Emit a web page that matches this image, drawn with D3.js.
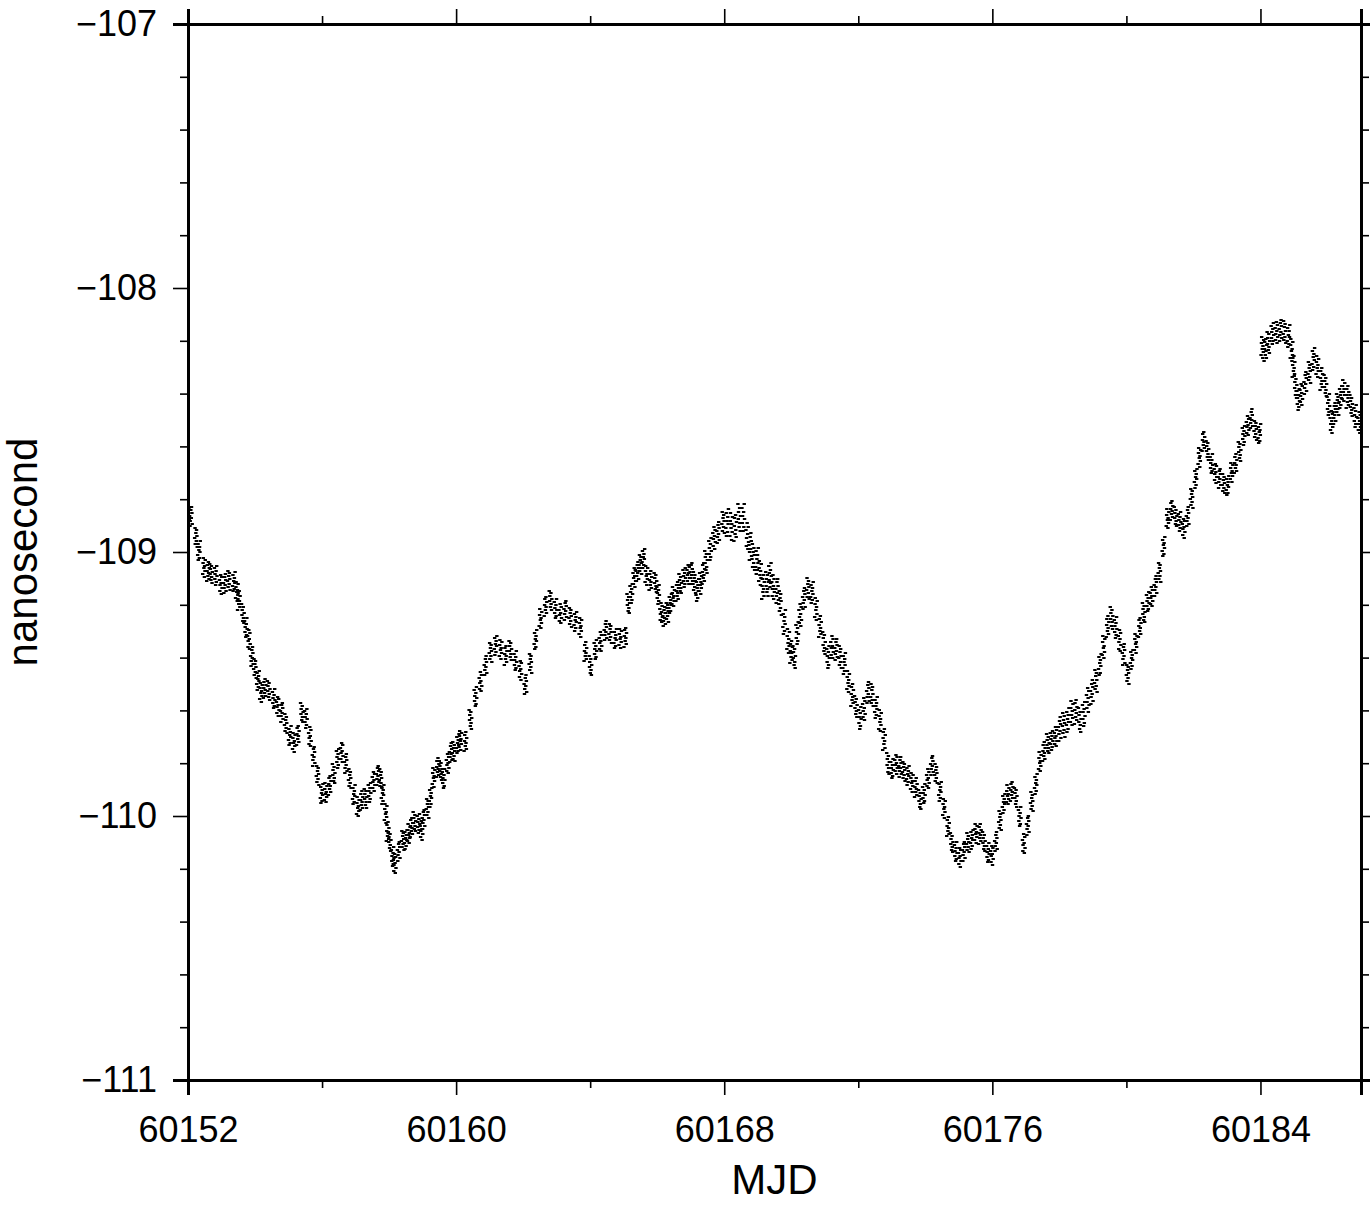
<!DOCTYPE html>
<html><head><meta charset="utf-8">
<script src="https://cdn.jsdelivr.net/npm/d3@7"></script>
<style>body{margin:0;background:#fff} svg text{font-family:"Liberation Sans",Arial,Helvetica,sans-serif;fill:#000}</style>
</head><body><svg id="c" width="1370" height="1213"></svg>
<script>
// ---- data ----
const mjdStart = 60152;
const dayOffset = [0.00,0.09,0.24,0.33,0.48,0.60,0.69,0.83,0.98,1.10,1.22,1.37,1.46,1.52,1.64,1.73,1.82,1.91,2.00,2.09,2.18,2.29,2.41,2.56,2.68,2.80,2.92,3.04,3.16,3.28,3.40,3.52,3.64,3.75,3.87,3.99,4.11,4.23,4.35,4.47,4.59,4.71,4.83,4.95,5.07,5.18,5.30,5.42,5.54,5.66,5.75,5.81,5.90,5.96,6.02,6.11,6.17,6.29,6.41,6.50,6.59,6.67,6.76,6.88,6.97,7.03,7.15,7.24,7.33,7.45,7.54,7.63,7.75,7.84,7.93,8.05,8.13,8.28,8.43,8.58,8.73,8.88,9.03,9.18,9.33,9.48,9.62,9.77,9.92,10.07,10.22,10.37,10.52,10.67,10.82,10.97,11.11,11.26,11.41,11.56,11.71,11.86,12.01,12.16,12.31,12.46,12.60,12.75,12.90,13.05,13.14,13.23,13.32,13.41,13.50,13.59,13.68,13.80,13.95,14.03,14.12,14.21,14.30,14.39,14.48,14.60,14.69,14.81,14.93,15.02,15.11,15.20,15.29,15.38,15.46,15.58,15.70,15.82,15.97,16.09,16.21,16.33,16.45,16.57,16.69,16.78,16.87,16.98,17.07,17.16,17.28,17.37,17.46,17.58,17.67,17.79,17.91,18.00,18.09,18.18,18.27,18.38,18.50,18.62,18.74,18.86,18.98,19.10,19.22,19.34,19.46,19.58,19.70,19.82,19.93,20.05,20.17,20.29,20.41,20.53,20.65,20.77,20.89,21.01,21.13,21.25,21.36,21.48,21.60,21.72,21.84,21.96,22.08,22.20,22.32,22.44,22.56,22.68,22.79,22.91,23.03,23.15,23.27,23.39,23.51,23.63,23.75,23.87,23.99,24.11,24.23,24.34,24.46,24.58,24.70,24.82,24.94,25.06,25.18,25.30,25.42,25.54,25.66,25.77,25.89,26.01,26.13,26.25,26.37,26.49,26.61,26.73,26.85,26.97,27.09,27.21,27.32,27.44,27.56,27.68,27.80,27.92,28.04,28.16,28.28,28.40,28.52,28.64,28.75,28.87,28.99,29.11,29.23,29.35,29.47,29.59,29.71,29.83,29.95,30.07,30.18,30.30,30.42,30.54,30.66,30.78,30.90,31.02,31.14,31.26,31.38,31.50,31.62,31.73,31.85,31.97,32.06,32.15,32.24,32.36,32.48,32.60,32.72,32.84,32.93,32.99,33.05,33.13,33.22,33.34,33.46,33.58,33.70,33.82,33.94,34.03,34.12,34.21,34.30,34.39,34.48,34.60,34.71,34.83,34.95];
const nsValue = [-108.860,-108.867,-108.936,-108.992,-109.057,-109.068,-109.076,-109.087,-109.114,-109.117,-109.106,-109.106,-109.144,-109.182,-109.227,-109.284,-109.333,-109.390,-109.436,-109.485,-109.523,-109.515,-109.523,-109.549,-109.580,-109.606,-109.644,-109.693,-109.720,-109.686,-109.606,-109.629,-109.693,-109.769,-109.845,-109.909,-109.909,-109.883,-109.833,-109.777,-109.758,-109.795,-109.856,-109.920,-109.958,-109.939,-109.932,-109.902,-109.864,-109.845,-109.852,-109.913,-109.989,-110.053,-110.091,-110.155,-110.174,-110.129,-110.091,-110.080,-110.064,-110.042,-110.015,-110.023,-110.053,-110.004,-109.966,-109.928,-109.845,-109.814,-109.826,-109.852,-109.799,-109.761,-109.750,-109.723,-109.712,-109.712,-109.629,-109.549,-109.485,-109.428,-109.379,-109.345,-109.364,-109.390,-109.364,-109.409,-109.447,-109.496,-109.417,-109.333,-109.246,-109.201,-109.182,-109.208,-109.231,-109.220,-109.239,-109.258,-109.284,-109.371,-109.428,-109.371,-109.333,-109.295,-109.307,-109.322,-109.322,-109.322,-109.189,-109.152,-109.095,-109.068,-109.042,-109.023,-109.080,-109.106,-109.114,-109.152,-109.227,-109.246,-109.220,-109.193,-109.170,-109.144,-109.117,-109.095,-109.076,-109.076,-109.117,-109.136,-109.117,-109.080,-109.030,-108.985,-108.947,-108.917,-108.886,-108.890,-108.894,-108.905,-108.871,-108.860,-108.936,-108.981,-109.011,-109.030,-109.080,-109.125,-109.117,-109.087,-109.125,-109.144,-109.193,-109.258,-109.333,-109.379,-109.390,-109.303,-109.239,-109.170,-109.136,-109.155,-109.208,-109.277,-109.345,-109.390,-109.356,-109.371,-109.390,-109.420,-109.492,-109.534,-109.580,-109.629,-109.587,-109.530,-109.542,-109.580,-109.636,-109.712,-109.795,-109.818,-109.803,-109.807,-109.826,-109.845,-109.864,-109.890,-109.939,-109.909,-109.856,-109.807,-109.833,-109.902,-109.970,-110.034,-110.098,-110.136,-110.148,-110.129,-110.102,-110.080,-110.061,-110.068,-110.091,-110.136,-110.148,-110.091,-110.015,-109.951,-109.913,-109.902,-109.928,-109.996,-110.102,-110.034,-109.939,-109.875,-109.795,-109.750,-109.723,-109.712,-109.693,-109.667,-109.655,-109.629,-109.606,-109.606,-109.629,-109.610,-109.561,-109.523,-109.485,-109.428,-109.352,-109.277,-109.250,-109.277,-109.333,-109.390,-109.455,-109.402,-109.345,-109.277,-109.227,-109.189,-109.163,-109.125,-109.076,-108.973,-108.871,-108.841,-108.860,-108.879,-108.909,-108.860,-108.792,-108.720,-108.633,-108.576,-108.614,-108.659,-108.697,-108.720,-108.735,-108.746,-108.697,-108.659,-108.614,-108.557,-108.515,-108.492,-108.538,-108.545,-108.223,-108.235,-108.197,-108.170,-108.170,-108.152,-108.163,-108.182,-108.227,-108.292,-108.375,-108.413,-108.398,-108.360,-108.311,-108.265,-108.299,-108.337,-108.367,-108.443,-108.500,-108.473,-108.443,-108.405,-108.386,-108.413,-108.436,-108.481,-108.511];
// half-width of the scatter band per whole day (ns)
const spreadPerDay = [0.036,0.036,0.036,0.036,0.036,0.036,0.036,0.036,0.036,0.036,0.036,0.036,0.036,0.036,0.036,0.040,0.050,0.045,0.040,0.040,0.040,0.036,0.036,0.036,0.036,0.036,0.045,0.040,0.036,0.036,0.036,0.036,0.040,0.040,0.040];

const xMajorTicks = [60152,60160,60168,60176,60184];
const xMajorLabels = ["60152","60160","60168","60176","60184"];
const xMinorTicks = [60156,60164,60172,60180];
const yMajorTicks = [-111,-110,-109,-108,-107];
const yMajorLabels = ["\u2212111","\u2212110","\u2212109","\u2212108","\u2212107"];
const xDomain = [60152,60187];
const yDomain = [-111,-107];
const xTitle = "MJD";
const yTitle = "nanosecond";

// ---- layout ----
const L = 188, R = 1361, T = 24, B = 1080;
const svg = d3.select("#c");
const x = d3.scaleLinear().domain(xDomain).range([L, R]);
const y = d3.scaleLinear().domain(yDomain).range([B, T]);
const yMinor = d3.range(-110.8, -107, 0.2).map(v => +v.toFixed(1)).filter(v => !yMajorTicks.includes(v));

svg.append("defs").append("clipPath").attr("id","clip")
  .append("rect").attr("x",L).attr("y",T).attr("width",R-L).attr("height",B-T);

// ---- points (small dashes) ----
const offs = [-1,-0.72,-0.43,-0.14,0.14,0.43,0.72,1];
const jx = [0.5,-1.0,1.2,-0.8,0.3,-1.4,0.9,-0.2];
const pts = [];
const n = Math.min(dayOffset.length, nsValue.length);
for (let i = 0; i < n; i++) {
  const s = spreadPerDay[Math.min(spreadPerDay.length-1, Math.floor(dayOffset[i]))];
  const sh = [0, 0.1, -0.1][i % 3];
  offs.forEach((o, k) => pts.push({m: mjdStart + dayOffset[i], v: nsValue[i] + (o + sh) * s, dx: jx[(k + i) % 8]}));
}
svg.append("g").attr("clip-path","url(#clip)")
  .selectAll("rect").data(pts).join("rect")
  .attr("x", d => x(d.m) + d.dx - 1.7)
  .attr("y", d => Math.round(y(d.v)))
  .attr("width", 3.4).attr("height", 2)
  .attr("fill", "#000");

// ---- axes ----
function styleAxis(g){
  g.selectAll(".domain").attr("stroke","#000").attr("stroke-width",2.2);
  g.selectAll(".tick line").attr("stroke","#000").attr("stroke-width",1.6);
  g.selectAll("text").attr("font-size",36).attr("fill","#000")
    .attr("font-family",'"Liberation Sans",Arial,sans-serif');
}
// left
svg.append("g").attr("transform",`translate(${L},0)`)
  .call(d3.axisLeft(y).tickValues(yMajorTicks).tickSize(15).tickPadding(16)
    .tickFormat((d,i)=>yMajorLabels[i])).call(styleAxis);
svg.append("g").attr("transform",`translate(${L},0)`)
  .call(d3.axisLeft(y).tickValues(yMinor).tickSize(8).tickFormat("")).call(styleAxis)
  .select(".domain").remove();
// right
svg.append("g").attr("transform",`translate(${R},0)`)
  .call(d3.axisRight(y).tickValues(yMajorTicks).tickSize(15).tickFormat("")).call(styleAxis);
svg.append("g").attr("transform",`translate(${R},0)`)
  .call(d3.axisRight(y).tickValues(yMinor).tickSize(8).tickFormat("")).call(styleAxis)
  .select(".domain").remove();
// bottom
svg.append("g").attr("transform",`translate(0,${B})`)
  .call(d3.axisBottom(x).tickValues(xMajorTicks).tickSize(15).tickPadding(21)
    .tickFormat((d,i)=>xMajorLabels[i])).call(styleAxis);
svg.append("g").attr("transform",`translate(0,${B})`)
  .call(d3.axisBottom(x).tickValues(xMinorTicks).tickSize(8).tickFormat("")).call(styleAxis)
  .select(".domain").remove();
// top
svg.append("g").attr("transform",`translate(0,${T})`)
  .call(d3.axisTop(x).tickValues(xMajorTicks).tickSize(15).tickFormat("")).call(styleAxis);
svg.append("g").attr("transform",`translate(0,${T})`)
  .call(d3.axisTop(x).tickValues(xMinorTicks).tickSize(8).tickFormat("")).call(styleAxis)
  .select(".domain").remove();

svg.selectAll(".domain").attr("shape-rendering","crispEdges");

// ---- titles ----
svg.append("text").attr("x",(L+R)/2).attr("y",1194).attr("text-anchor","middle")
  .attr("font-size",42).text(xTitle);
svg.append("text").attr("transform",`translate(37,${(T+B)/2}) rotate(-90)`)
  .attr("text-anchor","middle").attr("font-size",42).text(yTitle);
</script></body></html>
